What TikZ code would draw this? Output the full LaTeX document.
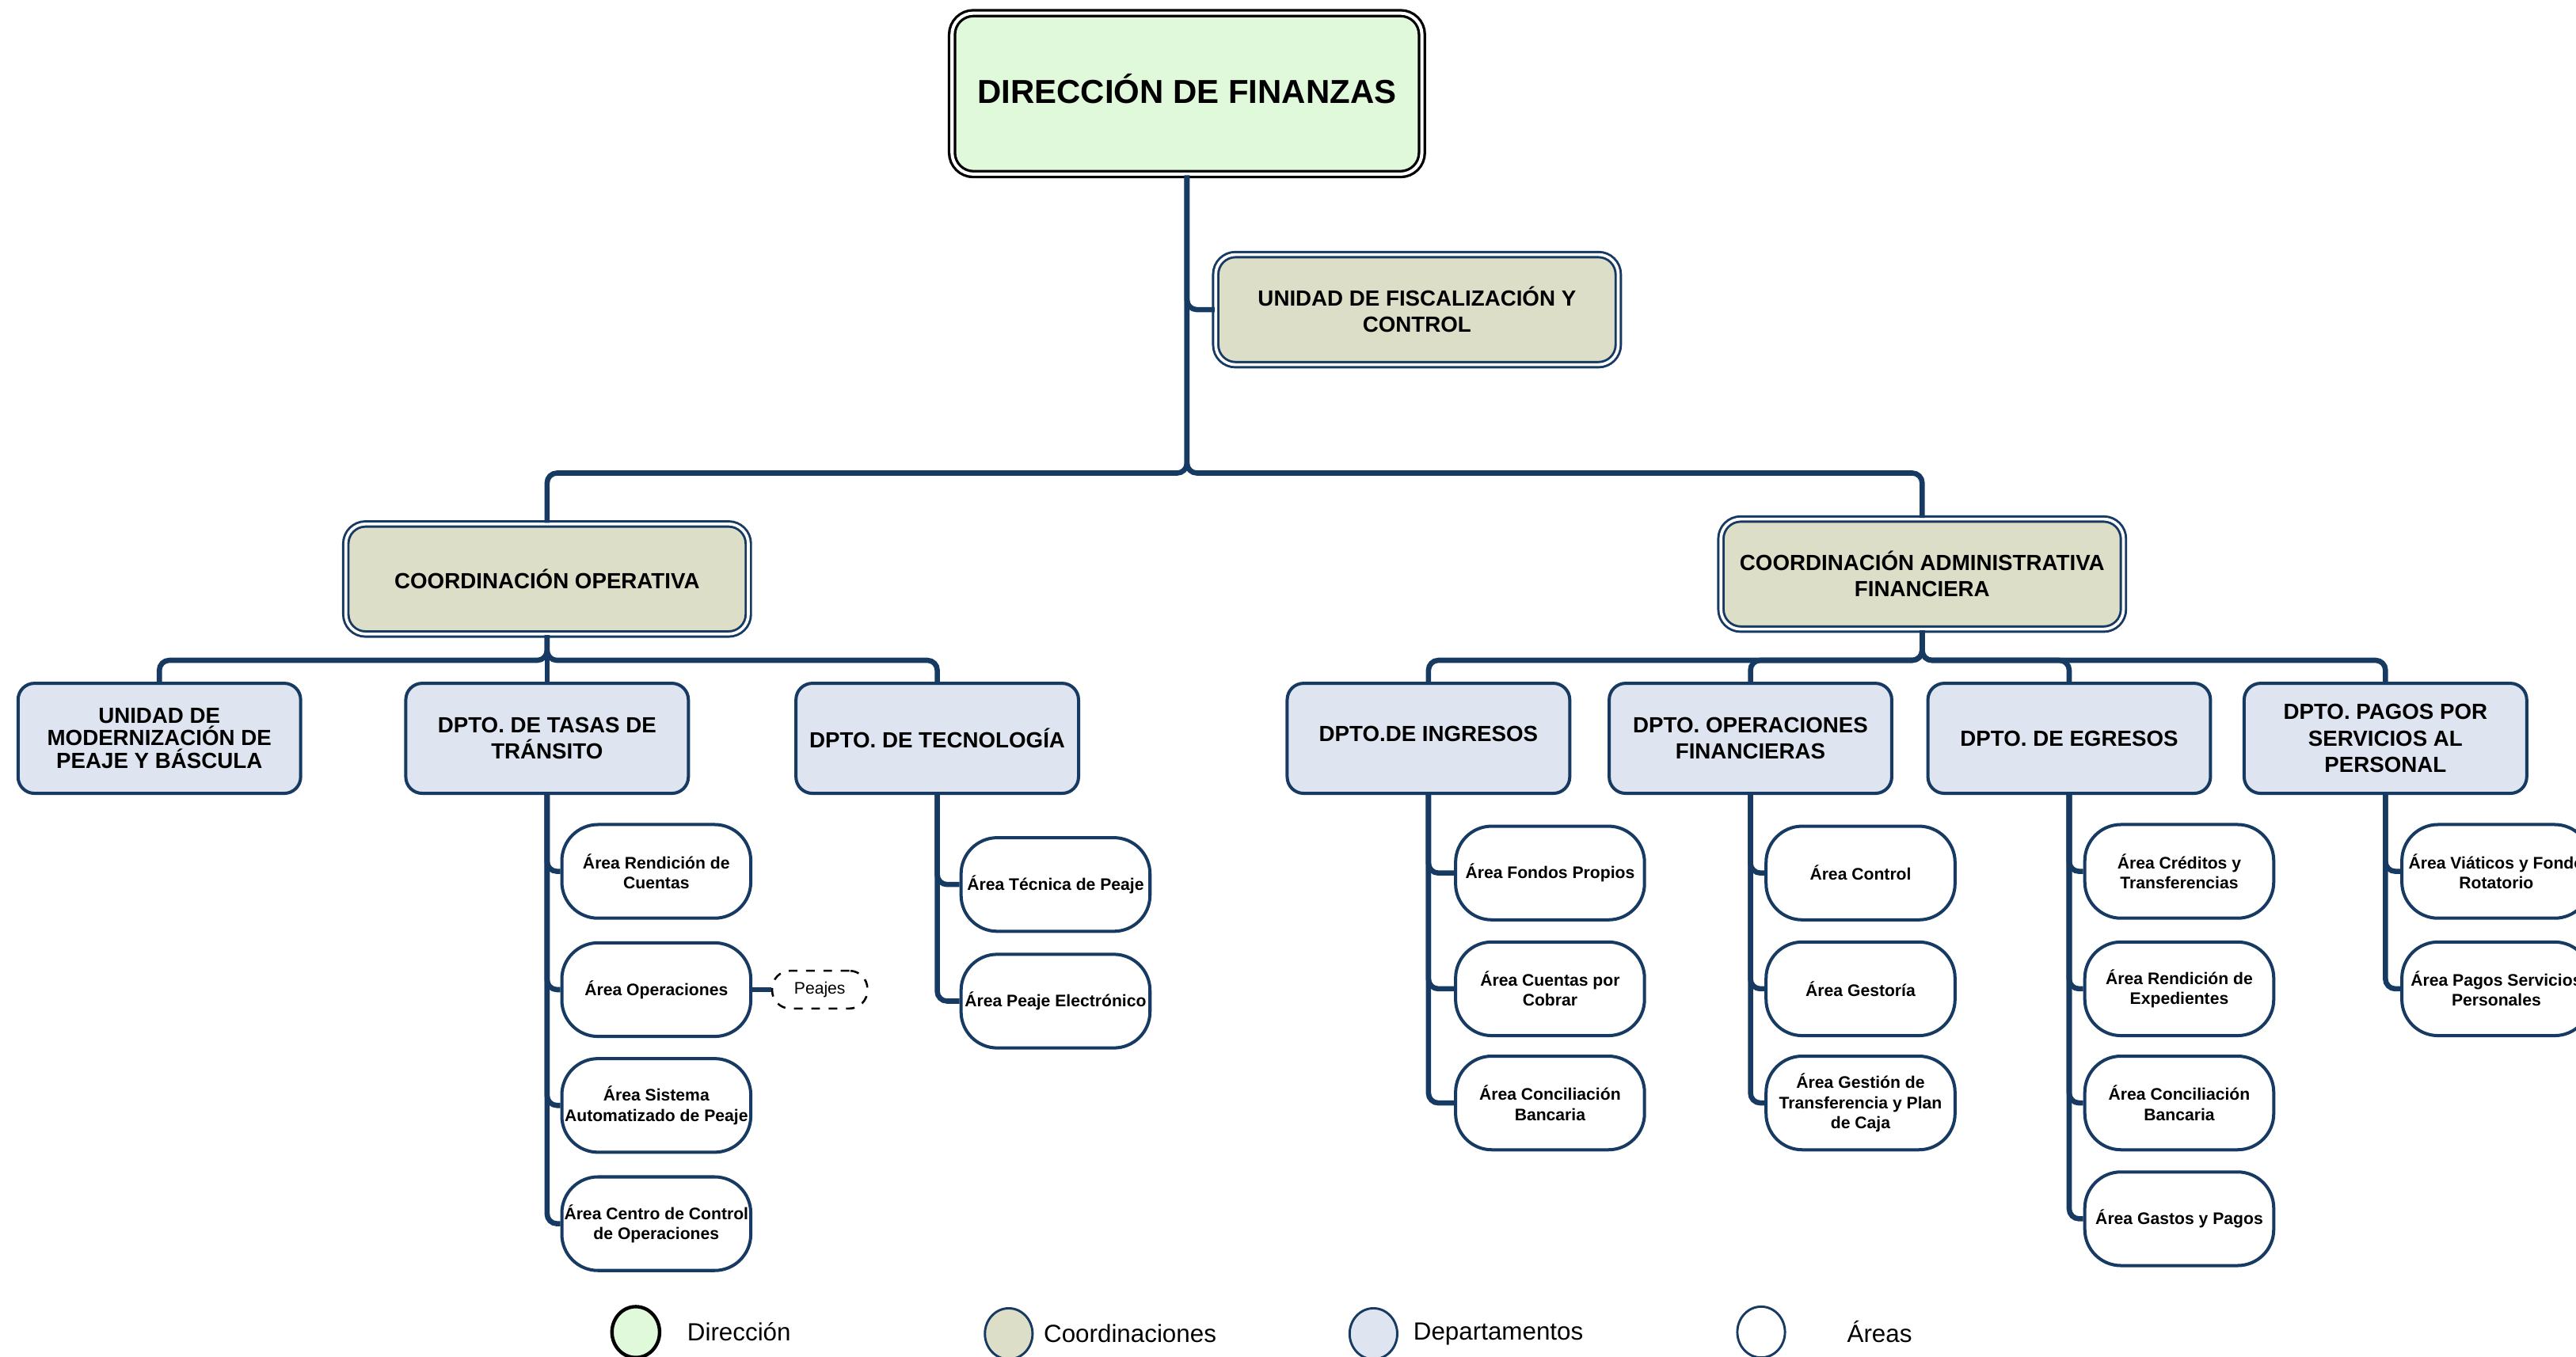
\documentclass[tikz,border=0pt]{standalone}
\usepackage{fontspec}
\setmainfont{Liberation Sans}
\usetikzlibrary{shapes.geometric}
\definecolor{navy}{HTML}{163A62}
\definecolor{dirfill}{HTML}{E0F9DB}
\definecolor{coordfill}{HTML}{DCDEC8}
\definecolor{deptfill}{HTML}{DEE5F1}
\tikzset{
 conn/.style={draw=navy, line width=1.8pt, rounded corners=1.2mm},
 dirbox/.style={draw=black, line width=0.9pt, double=white, double distance=1.1pt, fill=dirfill, rounded corners=2.6mm, minimum width=57.2mm, minimum height=19.6mm, align=center, font=\bfseries\fontsize{11.5}{14}\selectfont, inner sep=0pt},
 coordbox/.style={draw=navy, line width=0.8pt, double=white, double distance=1pt, fill=coordfill, rounded corners=2.4mm, minimum width=49mm, minimum height=13.4mm, align=center, font=\bfseries\fontsize{7.6}{9.1}\selectfont, inner sep=0pt},
 deptbox/.style={draw=navy, line width=1.1pt, fill=deptfill, rounded corners=2mm, minimum width=34.4mm, minimum height=13.4mm, align=center, font=\bfseries\fontsize{7.6}{9.1}\selectfont, inner sep=0pt},
 areabox/.style={draw=navy, line width=1.1pt, fill=white, rounded corners=4.4mm, minimum width=23mm, minimum height=11.4mm, align=center, font=\bfseries\fontsize{5.8}{7}\selectfont, inner sep=0pt},
 peajebox/.style={draw=black, dashed, line width=0.7pt, rounded corners=2.2mm, minimum width=11.6mm, minimum height=4.6mm, font=\fontsize{5.8}{7}\selectfont, inner sep=0pt},
 legcirc/.style={ellipse, minimum width=5.8mm, minimum height=6.2mm, inner sep=0pt, line width=0.8pt},
 legtext/.style={anchor=west, font=\fontsize{8.6}{10}\selectfont, inner sep=0pt},
}
\begin{document}
\begin{tikzpicture}[x=0.2mm,y=-0.2mm]
\useasboundingbox (0,0) rectangle (1568,826);
\fill[white] (0,0) rectangle (1568,826);
\clip (0,0) rectangle (1568,826);

% top level
\node[dirbox] (dir) at (722.5,57) {\raisebox{1.2mm}{DIRECCIÓN DE FINANZAS}};
\node[coordbox] (fisc) at (862.5,188.5) {UNIDAD DE FISCALIZACIÓN Y\\CONTROL};
\node[coordbox] (cop) at (333,352.5) {COORDINACIÓN OPERATIVA};
\node[coordbox] (cadm) at (1170,349.5) {COORDINACIÓN ADMINISTRATIVA\\FINANCIERA};

% departments
\node[deptbox, font=\bfseries\fontsize{7.6}{7.9}\selectfont] (umod) at (97,449.5) {UNIDAD DE\\MODERNIZACIÓN DE\\PEAJE Y BÁSCULA};
\node[deptbox] (dtt) at (333,449.5) {DPTO. DE TASAS DE\\TRÁNSITO};
\node[deptbox] (dtec) at (570.5,449.5) {DPTO. DE TECNOLOGÍA};
\node[deptbox] (ding) at (869.5,449.5) {\raisebox{1.2mm}{DPTO.DE INGRESOS}};
\node[deptbox] (dopf) at (1065.5,449.5) {DPTO. OPERACIONES\\FINANCIERAS};
\node[deptbox] (degr) at (1259.5,449.5) {DPTO. DE EGRESOS};
\node[deptbox] (dpag) at (1452,449.5) {DPTO. PAGOS POR\\SERVICIOS AL\\PERSONAL};

% areas: Tasas
\node[areabox] (ar1) at (399.5,530.5) {Área Rendición de\\Cuentas};
\node[areabox] (ar2) at (399.5,602.5) {Área Operaciones};
\node[areabox] (ar3) at (399.5,673) {Área Sistema\\Automatizado de Peaje};
\node[areabox] (ar4) at (399.5,745) {Área Centro de Control\\de Operaciones};
\node[peajebox] (peaj) at (499,602.5) {Peajes};
% Tecnologia
\node[areabox] (at1) at (642.5,538.5) {Área Técnica de Peaje};
\node[areabox] (at2) at (642.5,609.5) {Área Peaje Electrónico};
% Ingresos
\node[areabox] (ai1) at (943.5,531.5) {Área Fondos Propios};
\node[areabox] (ai2) at (943.5,602) {Área Cuentas por\\Cobrar};
\node[areabox] (ai3) at (943.5,671.5) {Área Conciliación\\Bancaria};
% Operaciones financieras
\node[areabox] (ao1) at (1132.5,531.5) {Área Control};
\node[areabox] (ao2) at (1132.5,602) {Área Gestoría};
\node[areabox] (ao3) at (1132.5,671.5) {Área Gestión de\\Transferencia y Plan\\de Caja};
% Egresos
\node[areabox] (ae1) at (1326.5,530.5) {Área Créditos y\\Transferencias};
\node[areabox] (ae2) at (1326.5,602) {Área Rendición de\\Expedientes};
\node[areabox] (ae3) at (1326.5,671.5) {Área Conciliación\\Bancaria};
\node[areabox] (ae4) at (1326.5,742) {Área Gastos y Pagos};
% Pagos
\node[areabox] (ap1) at (1519.5,530.5) {Área Viáticos y Fondo\\Rotatorio};
\node[areabox] (ap2) at (1519.5,602) {Área Pagos Servicios\\Personales};

% connectors
\coordinate (busT) at (722.5,288);
\coordinate (busL) at (333,402);
\coordinate (busR) at (1170,402);
\draw[conn] (dir.south) |- (fisc.west);
\draw[conn] (dir.south) -- (busT) -| (cop.north);
\draw[conn] (dir.south) -- (busT) -| (cadm.north);
\draw[conn] (cop.south) -- (busL) -| (umod.north);
\draw[conn] (cop.south) -- (dtt.north);
\draw[conn] (cop.south) -- (busL) -| (dtec.north);
\draw[conn] (cadm.south) -- (busR) -| (ding.north);
\draw[conn] (cadm.south) -- (busR) -| (dopf.north);
\draw[conn] (cadm.south) -- (busR) -| (degr.north);
\draw[conn] (cadm.south) -- (busR) -| (dpag.north);

\foreach \a in {ar1,ar2,ar3,ar4} \draw[conn] (dtt.south) |- (\a.west);
\foreach \a in {at1,at2} \draw[conn] (dtec.south) |- (\a.west);
\foreach \a in {ai1,ai2,ai3} \draw[conn] (ding.south) |- (\a.west);
\foreach \a in {ao1,ao2,ao3} \draw[conn] (dopf.south) |- (\a.west);
\foreach \a in {ae1,ae2,ae3,ae4} \draw[conn] (degr.south) |- (\a.west);
\foreach \a in {ap1,ap2} \draw[conn] (dpag.south) |- (\a.west);
\draw[conn] (ar2.east) -- (peaj.west);

% legend
\node[legcirc, draw=black, line width=1.2pt, fill=dirfill] (l1) at (387,811) {};
\node[legtext] (t1) at (418,811) {Dirección};
\node[legcirc, draw=navy, fill=coordfill] (l2) at (614,812) {};
\node[legtext] (t2) at (635,812) {Coordinaciones};
\node[legcirc, draw=navy, fill=deptfill] (l3) at (836,812) {};
\node[legtext] (t3) at (860,812) {Departamentos};
\node[legcirc, draw=navy, fill=white] (l4) at (1072,811) {};
\node[legtext] (t4) at (1124,811) {Áreas};
\end{tikzpicture}
\end{document}
